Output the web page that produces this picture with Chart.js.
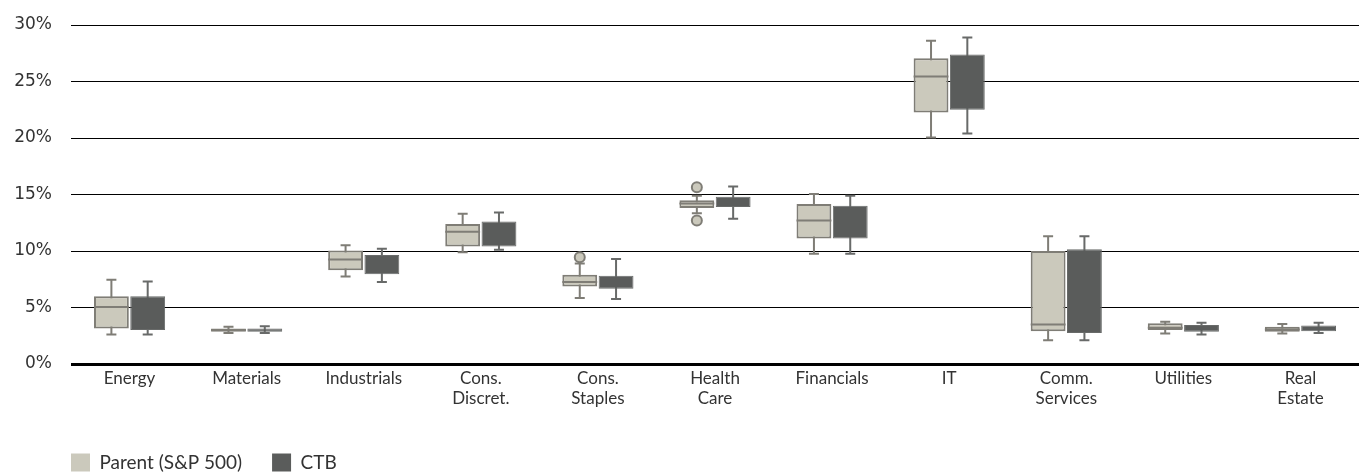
<!DOCTYPE html>
<html>
<head>
<meta charset="utf-8">
<script src="https://cdn.jsdelivr.net/npm/chart.js@4.4.1/dist/chart.umd.min.js"></script>
<style>
  html, body { margin: 0; padding: 0; background: #fff; }
  #wrap { width: 1359px; height: 473px; }
</style>
</head>
<body>
<div id="wrap"><canvas id="myChart"></canvas></div>
<script>
// sectors
const categories = ['Energy', 'Materials', 'Industrials', ['Cons.', 'Discret.'], ['Cons.', 'Staples'],
    ['Health', 'Care'], 'Financials', 'IT', ['Comm.', 'Services'], 'Utilities', ['Real', 'Estate']];

// Parent (S&P 500) weights, %
const parentMin    = [2.6, 2.75, 7.75, 9.9, 5.85, 13.35, 9.75, 20.05, 2.1, 2.7, 2.7];
const parentQ1     = [3.15, 2.85, 8.3, 10.4, 6.85, 13.8, 11.1, 22.25, 2.9, 3.0, 2.85];
const parentMedian = [5.05, 3.0, 9.25, 11.7, 7.25, 14.2, 12.7, 25.45, 3.5, 3.2, 3.05];
const parentQ3     = [6.0, 3.15, 10.05, 12.4, 7.9, 14.5, 14.15, 27.05, 10.0, 3.6, 3.3];
const parentMax    = [7.45, 3.3, 10.5, 13.3, 8.9, 14.9, 15.05, 28.6, 11.3, 3.75, 3.55];
const parentOutliers = [[], [], [], [], [9.45], [15.65, 12.7], [], [], [], [], []];

// CTB weights, %
const ctbMin = [2.6, 2.75, 7.25, 10.1, 5.75, 12.85, 9.75, 20.4, 2.1, 2.6, 2.75];
const ctbQ1  = [3.0, 2.85, 7.95, 10.4, 6.65, 13.9, 11.1, 22.5, 2.75, 2.85, 2.9];
const ctbQ3  = [6.0, 3.15, 9.65, 12.6, 7.8, 14.8, 14.0, 27.4, 10.15, 3.45, 3.4];
const ctbMax = [7.3, 3.35, 10.2, 13.4, 9.3, 15.7, 14.9, 28.9, 11.3, 3.65, 3.65];

const yTicks = [0, 5, 10, 15, 20, 25, 30];

const parentFill = '#cbc9bc', parentLine = '#7f7d76';
const ctbFill = '#5a5c5b', ctbLine = '#686a69';

// whiskers go behind the boxes, medians and outliers on top
const boxPlot = {
    id: 'boxPlot',
    beforeDatasetsDraw(chart) {
        const ctx = chart.ctx;
        const y = chart.scales.y;
        const sets = [[parentMin, parentMax, parentLine], [ctbMin, ctbMax, ctbLine]];
        sets.forEach((s, d) => {
            chart.getDatasetMeta(d).data.forEach((bar, i) => {
                const top = y.getPixelForValue(s[1][i]);
                const bot = y.getPixelForValue(s[0][i]);
                ctx.save();
                ctx.strokeStyle = s[2];
                ctx.lineWidth = 2;
                ctx.beginPath();
                ctx.moveTo(bar.x, top); ctx.lineTo(bar.x, bot);
                ctx.moveTo(bar.x - 5, top); ctx.lineTo(bar.x + 5, top);
                ctx.moveTo(bar.x - 5, bot); ctx.lineTo(bar.x + 5, bot);
                ctx.stroke();
                ctx.restore();
            });
        });
    },
    afterDatasetsDraw(chart) {
        const ctx = chart.ctx;
        const y = chart.scales.y;
        chart.getDatasetMeta(0).data.forEach((bar, i) => {
            const half = bar.width / 2;
            const m = y.getPixelForValue(parentMedian[i]);
            ctx.save();
            ctx.strokeStyle = parentLine;
            ctx.lineWidth = 2;
            ctx.beginPath();
            ctx.moveTo(bar.x - half, m); ctx.lineTo(bar.x + half, m);
            ctx.stroke();
            ctx.fillStyle = parentFill;
            parentOutliers[i].forEach(v => {
                ctx.beginPath();
                ctx.arc(bar.x, y.getPixelForValue(v), 5, 0, Math.PI * 2);
                ctx.fill();
                ctx.stroke();
            });
            ctx.restore();
        });
    },
    afterLayout(chart) {
        // line the legend up with the plot's left edge
        chart.legend.left = chart.chartArea.left - chart.legend.options.labels.padding;
    }
};

let ctx = document.querySelector('#myChart').getContext('2d');

let myChart = new Chart(ctx, {
    type: 'bar',
    data: {
        labels: categories,
        datasets: [{
            label: 'Parent (S&P 500)',
            data: parentQ1.map((q, i) => [q, parentQ3[i]]),
            backgroundColor: parentFill,
            borderColor: parentLine,
            borderWidth: 2,
            borderSkipped: false,
            categoryPercentage: 0.62,
            barPercentage: 0.96
        }, {
            label: 'CTB',
            data: ctbQ1.map((q, i) => [q, ctbQ3[i]]),
            backgroundColor: ctbFill,
            borderColor: ctbLine,
            borderWidth: 1,
            borderSkipped: false,
            categoryPercentage: 0.62,
            barPercentage: 0.96
        }]
    },
    options: {
        responsive: true,
        maintainAspectRatio: false,
        animation: false,
        layout: { padding: { top: 25, left: 10, right: 0, bottom: -9 } },
        scales: {
            x: {
                grid: { display: false, drawTicks: false },
                border: { display: false },
                ticks: {
                    color: '#333',
                    font: { family: 'Lato', size: 17, lineHeight: 1.2 },
                    padding: 4,
                    maxRotation: 0,
                    autoSkip: false
                },
                afterFit(scale) { scale.height = 59; }
            },
            y: {
                min: yTicks[0],
                max: yTicks[yTicks.length - 1],
                afterBuildTicks(scale) { scale.ticks = yTicks.map(v => ({ value: v })); },
                grid: {
                    color: '#000',
                    lineWidth: c => c.tick && c.tick.value === 0 ? 3 : 1,
                    tickLength: 15,
                    tickColor: 'rgba(0,0,0,0)'
                },
                border: { display: false },
                ticks: {
                    color: '#333',
                    font: { family: 'DejaVu Sans', size: 17 },
                    padding: 4,
                    callback: v => v + '%'
                },
                afterFit(scale) { scale.width = 61; }
            }
        },
        plugins: {
            tooltip: { enabled: false },
            legend: {
                position: 'bottom',
                align: 'start',
                labels: {
                    boxWidth: 19,
                    boxHeight: 18,
                    padding: 30,
                    color: '#333',
                    font: { family: 'Lato', size: 19 },
                    generateLabels: chart => Chart.defaults.plugins.legend.labels.generateLabels(chart)
                        .map(item => Object.assign(item, { lineWidth: 0, strokeStyle: 'rgba(0,0,0,0)' }))
                }
            }
        }
    },
    plugins: [boxPlot]
});
</script>
</body>
</html>
